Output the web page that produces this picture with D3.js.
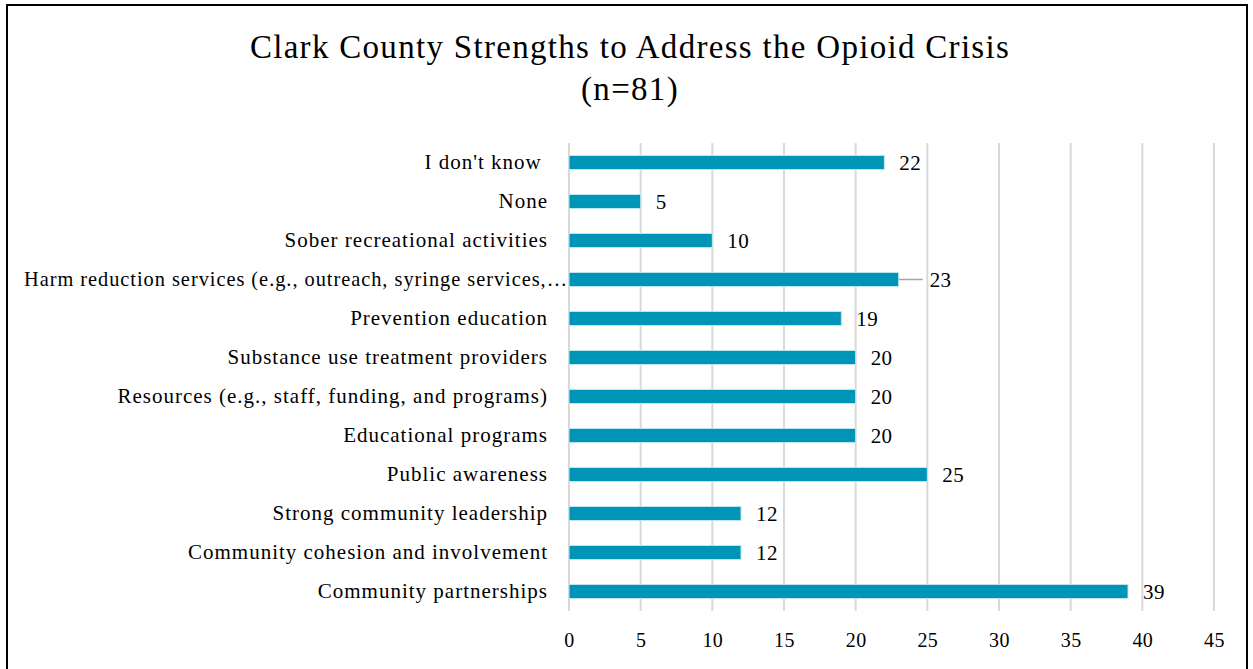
<!DOCTYPE html>
<html>
<head>
<meta charset="utf-8">
<script src="https://cdn.jsdelivr.net/npm/d3@7/dist/d3.min.js"></script>
<style>
  html, body { margin: 0; padding: 0; background: #fff; }
  svg { display: block; }
  text { font-family: "Liberation Serif", "Times New Roman", serif; fill: #000; }
</style>
</head>
<body>
<svg id="chart" width="1253" height="669"></svg>
<script>
// Survey responses, listed top to bottom as they appear on the chart
const categories = [
  "I don't know ",
  "None",
  "Sober recreational activities",
  "Harm reduction services (e.g., outreach, syringe services,\u2026",
  "Prevention education",
  "Substance use treatment providers",
  "Resources (e.g., staff, funding, and programs)",
  "Educational programs",
  "Public awareness",
  "Strong community leadership",
  "Community cohesion and involvement",
  "Community partnerships"
];
const counts = [22, 5, 10, 23, 19, 20, 20, 20, 25, 12, 12, 39];
const xTicks = [0, 5, 10, 15, 20, 25, 30, 35, 40, 45];
const titleLines = ["Clark County Strengths to Address the Opioid Crisis", "(n=81)"];

const W = 1253, H = 669;
const svg = d3.select("#chart");
const isHarm = d => d.startsWith("Harm reduction");

// outer frame
svg.append("rect")
  .attr("x", 7).attr("y", 5)
  .attr("width", 1240).attr("height", H + 10)
  .attr("fill", "none").attr("stroke", "#000").attr("stroke-width", 2);

const plot = { left: 569, right: 1214, top: 143, bottom: 611 };

const x = d3.scaleLinear().domain([0, 45]).range([plot.left, plot.right]);
const y = d3.scaleBand().domain(categories)
  .range([plot.top, plot.bottom]).paddingInner(0.64).paddingOuter(0.32);

// title
svg.append("g").selectAll("text").data(titleLines).join("text")
  .attr("x", 630).attr("y", (d, i) => 58 + i * 42)
  .attr("text-anchor", "middle")
  .attr("font-size", 33)
  .attr("letter-spacing", 1.3)
  .text(d => d);

// vertical gridlines
svg.append("g").selectAll("line").data(xTicks).join("line")
  .attr("x1", d => x(d)).attr("x2", d => x(d))
  .attr("y1", plot.top).attr("y2", plot.bottom)
  .attr("stroke", "#d9d9d9").attr("stroke-width", 2);

// x axis tick labels
const xAxis = d3.axisBottom(x).tickValues(xTicks).tickSize(0).tickPadding(0);
const gx = svg.append("g").attr("transform", `translate(0,${plot.bottom + 36})`).call(xAxis);
gx.select(".domain").remove();
gx.selectAll("text")
  .attr("font-size", 20)
  .attr("letter-spacing", 0.4)
  .attr("dy", "0")
  .style("font-family", "Liberation Serif, serif")
  .attr("fill", "#000");

// category labels
const yAxis = d3.axisLeft(y).tickSize(0).tickPadding(0);
const gy = svg.append("g").attr("transform", `translate(${plot.left - 21},0)`).call(yAxis);
gy.select(".domain").remove();
gy.selectAll("text")
  .attr("font-size", 21)
  .attr("letter-spacing", 1.0)
  .style("font-family", "Liberation Serif, serif")
  .style("white-space", "pre")
  .attr("fill", "#000");
// the truncated harm reduction label runs right up to the bar
gy.selectAll(".tick").filter(d => isHarm(d)).select("text")
  .attr("x", 20)
  .attr("textLength", 544)
  .attr("lengthAdjust", "spacingAndGlyphs");

// bars
svg.append("g").selectAll("rect").data(categories).join("rect")
  .attr("x", x(0))
  .attr("y", d => y(d))
  .attr("width", (d, i) => x(counts[i]) - x(0))
  .attr("height", y.bandwidth())
  .attr("fill", "#0095b6")
  .attr("stroke", "#bfe6ef").attr("stroke-width", 1);

// value labels; the harm reduction label sits further out with a leader line
const offsetOf = d => isHarm(d) ? 31 : 15;
svg.append("g").selectAll("line").data(categories.filter(isHarm)).join("line")
  .attr("x1", d => x(counts[categories.indexOf(d)]))
  .attr("x2", d => x(counts[categories.indexOf(d)]) + 24)
  .attr("y1", d => y(d) + y.bandwidth() / 2)
  .attr("y2", d => y(d) + y.bandwidth() / 2)
  .attr("stroke", "#a6a6a6").attr("stroke-width", 1.5);

svg.append("g").selectAll("text").data(categories).join("text")
  .attr("x", (d, i) => x(counts[i]) + offsetOf(d))
  .attr("y", d => y(d) + y.bandwidth() / 2)
  .attr("dy", "0.35em")
  .attr("font-size", 21)
  .attr("letter-spacing", 0.4)
  .text((d, i) => counts[i]);
</script>
</body>
</html>
